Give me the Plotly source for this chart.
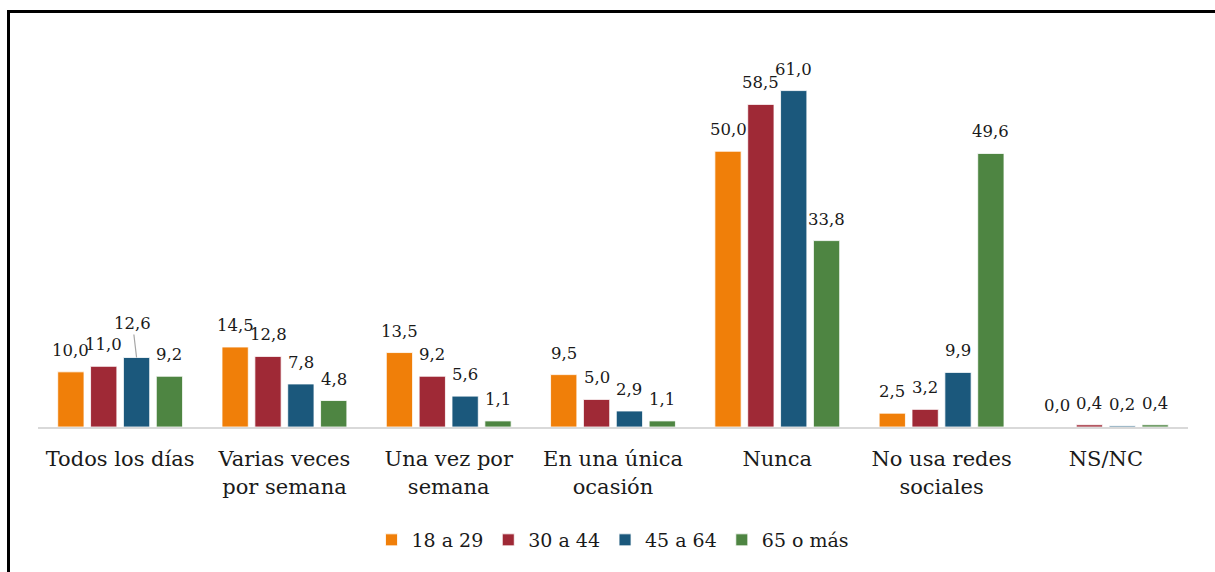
import plotly.graph_objects as go

categories = ["Todos los días", "Varias veces por semana", "Una vez por semana",
              "En una única ocasión", "Nunca", "No usa redes sociales", "NS/NC"]
tick_labels = ["Todos los días", "Varias veces<br>por semana", "Una vez por<br>semana",
               "En una única<br>ocasión", "Nunca", "No usa redes<br>sociales", "NS/NC"]

series_names = ["18 a 29", "30 a 44", "45 a 64", "65 o más"]
v_18_29 = [10.0, 14.5, 13.5, 9.5, 50.0, 2.5, 0.0]
v_30_44 = [11.0, 12.8, 9.2, 5.0, 58.5, 3.2, 0.4]
v_45_64 = [12.6, 7.8, 5.6, 2.9, 61.0, 9.9, 0.2]
v_65_mas = [9.2, 4.8, 1.1, 1.1, 33.8, 49.6, 0.4]
series_values = [v_18_29, v_30_44, v_45_64, v_65_mas]
colors = ["#F07F09", "#9F2936", "#1B587C", "#4E8542"]

FONT = "DejaVu Serif"

def fmt(v):
    return f"{v:.1f}".replace(".", ",")

fig = go.Figure()
for name, vals, col in zip(series_names, series_values, colors):
    fig.add_trace(go.Bar(
        x=categories, y=vals, name=name,
        marker=dict(color=col, line=dict(color="rgba(255,255,255,0.8)", width=1)),
        hoverinfo="skip",
    ))

annotations = []
n = len(series_names)
slot = 0.8 / n
for si, vals in enumerate(series_values):
    for ci, v in enumerate(vals):
        xpos = ci + (si - (n - 1) / 2) * slot
        if ci == 0 and si == 2:
            annotations.append(dict(
                x=xpos, y=v, xref="x", yref="y", text=fmt(v),
                showarrow=True, arrowhead=0, arrowwidth=1.2, arrowcolor="#a6a6a6",
                ax=-4, ay=-34, standoff=0,
                font=dict(family=FONT, size=16.5, color="#1a1a1a"),
            ))
        else:
            annotations.append(dict(
                x=xpos, y=v, xref="x", yref="y", text=fmt(v),
                showarrow=False, yanchor="bottom", yshift=10,
                font=dict(family=FONT, size=16.5, color="#1a1a1a"),
            ))

L, R, T, B = 38, 27, 20, 145
W, H = 1215, 572
pw, ph = W - L - R, H - T - B

def px_x(p):
    return (p - L) / pw

def px_y(p):
    return (H - B - p) / ph

shapes = [
    dict(type="line", xref="paper", yref="paper",
         x0=px_x(8.5), x1=px_x(8.5), y0=px_y(10.5), y1=px_y(575),
         line=dict(color="black", width=3)),
    dict(type="line", xref="paper", yref="paper",
         x0=px_x(7), x1=px_x(1220), y0=px_y(11.5), y1=px_y(11.5),
         line=dict(color="black", width=3)),
]

fig.update_layout(
    width=W, height=H,
    margin=dict(l=L, r=R, t=T, b=B),
    paper_bgcolor="white", plot_bgcolor="white",
    barmode="group", bargap=0.2, bargroupgap=0.2,
    font=dict(family=FONT, color="#1a1a1a"),
    xaxis=dict(
        tickmode="array", tickvals=categories, ticktext=tick_labels,
        tickfont=dict(family=FONT, size=21, color="#1a1a1a"),
        showline=True, linecolor="#d9d9d9", linewidth=2,
        showgrid=False, ticks="", ticklabelstandoff=12,
        fixedrange=True,
    ),
    yaxis=dict(range=[0, 73.8], visible=False, showgrid=False, fixedrange=True),
    legend=dict(
        orientation="h", x=0.5, xanchor="center", y=px_y(540), yanchor="middle",
        font=dict(family=FONT, size=19, color="#1a1a1a"),
        traceorder="normal",
    ),
    annotations=annotations,
    shapes=shapes,
    showlegend=True,
)

fig.write_html(
    "out.html",
    config={"displayModeBar": False, "staticPlot": True},
    post_script="document.body.style.margin='0';document.body.style.padding='0';document.body.style.overflow='hidden';",
)
